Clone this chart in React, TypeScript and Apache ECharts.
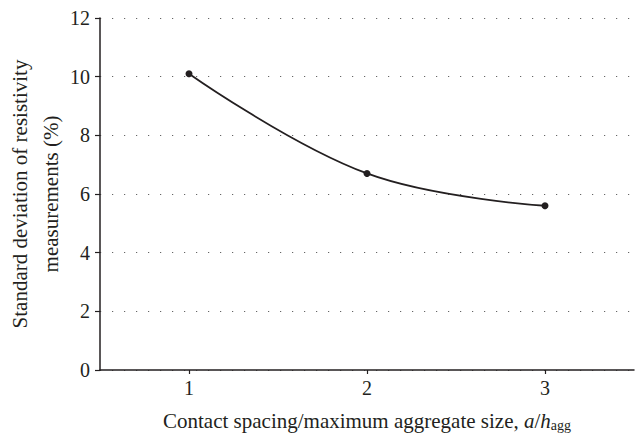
import React, { useEffect, useRef } from "react";
import * as echarts from "echarts";

const xValues = [1, 2, 3];
const stdDev = [10.1, 6.7, 5.6];
const xTicks = [1, 2, 3];
const yAxisTitle = "Standard deviation of resistivity\nmeasurements (%)";
const xAxisTitle = "Contact spacing/maximum aggregate size, ";

const INK = "#231f20";
const FONT = "Liberation Serif";

export default function App() {
  const ref = useRef<HTMLDivElement>(null);
  useEffect(() => {
    if (!ref.current) return;
    const chart = echarts.init(ref.current, undefined, { renderer: "svg" });
    chart.setOption({
      animation: false,
      backgroundColor: "#ffffff",
      textStyle: { fontFamily: FONT, color: INK },
      grid: { left: 100, right: 1, top: 18, bottom: 66, containLabel: false, outerBoundsMode: "none" },
      xAxis: {
        type: "value",
        min: 0.5,
        max: 3.5,
        name: "{t|" + xAxisTitle + "}{i|a}{t|/}{i|h}{sub|agg}",
        nameLocation: "middle",
        nameGap: 40,
        nameMoveOverlap: false,
        nameTextStyle: {
          rich: {
            t: { fontFamily: FONT, fontSize: 21, color: INK },
            i: { fontFamily: FONT, fontSize: 21, color: INK, fontStyle: "italic" },
            sub: {
              fontFamily: FONT,
              fontSize: 14,
              color: INK,
              verticalAlign: "bottom",
              padding: [8, 0, 0, 0],
            },
          },
        },
        axisLine: { show: true, onZero: false, lineStyle: { color: INK, width: 1.5 } },
        axisTick: {
          show: true,
          inside: false,
          length: 4,
          customValues: xTicks,
          lineStyle: { color: INK, width: 1.2 },
        },
        axisLabel: {
          customValues: xTicks,
          margin: 8,
          fontFamily: FONT,
          fontSize: 20,
          color: INK,
        },
        splitLine: { show: false },
      },
      yAxis: {
        type: "value",
        min: 0,
        max: 12,
        interval: 2,
        name: yAxisTitle,
        nameLocation: "middle",
        nameRotate: 90,
        nameGap: 34,
        nameMoveOverlap: false,
        nameTextStyle: { fontFamily: FONT, fontSize: 21, color: INK, lineHeight: 31 },
        axisLine: { show: true, lineStyle: { color: INK, width: 1.5 } },
        axisTick: { show: true, inside: false, length: 5, lineStyle: { color: INK, width: 1.2 } },
        axisLabel: { margin: 10, fontFamily: FONT, fontSize: 20, color: INK },
        splitLine: {
          show: true,
          lineStyle: { color: "#666666", width: 1.2, type: [1.2, 10.8], dashOffset: -12 },
        },
      },
      series: [
        {
          type: "line",
          data: xValues.map((x, i) => [x, stdDev[i]]),
          smooth: 0.4,
          symbol: "circle",
          symbolSize: 7,
          itemStyle: { color: INK },
          lineStyle: { color: INK, width: 1.8 },
        },
      ],
    });
    return () => chart.dispose();
  }, []);
  return <div ref={ref} style={{ width: 635, height: 436, position: "absolute", left: 0, top: 0 }} />;
}
